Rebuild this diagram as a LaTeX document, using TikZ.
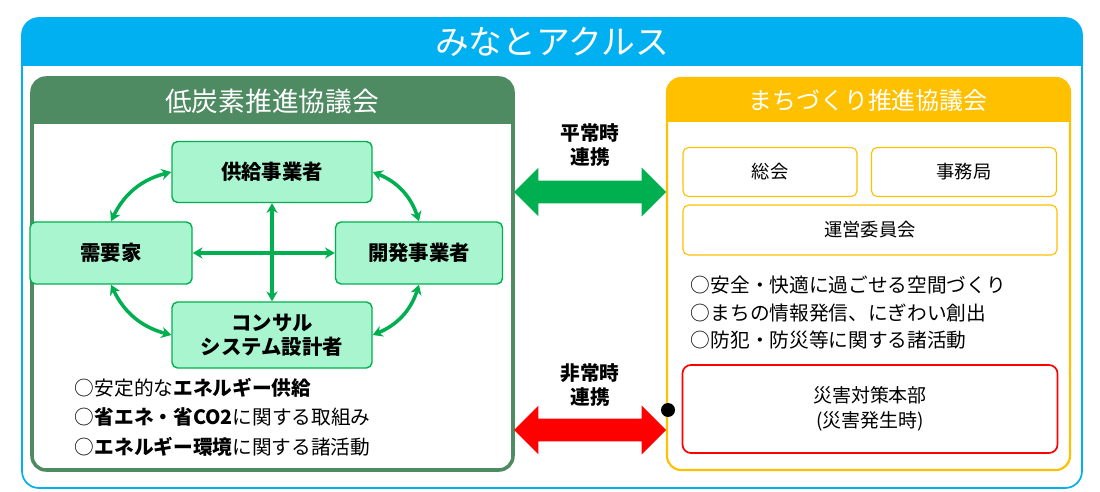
\documentclass[tikz,border=0pt]{standalone}
\usepackage{fontspec}
\setmainfont{Noto Sans CJK JP}
\usetikzlibrary{positioning,arrows.meta,shapes.arrows}
\definecolor{aqblue}{HTML}{00B0F0}
\definecolor{lcgreen}{HTML}{4E8A62}
\definecolor{ndgreen}{HTML}{00B050}
\definecolor{ndfill}{HTML}{A9F5CF}
\definecolor{mzyellow}{HTML}{FFC000}
\tikzset{
  actor/.style={draw=ndgreen, fill=ndfill, rounded corners=4pt, line width=1pt, font=\bfseries\fontsize{14.5}{17}\selectfont, align=center, inner sep=0pt},
  member/.style={draw=mzyellow, fill=white, rounded corners=4pt, line width=0.8pt, font=\fontsize{13}{15}\selectfont, inner sep=0pt},
  link/.style={{Stealth[length=7pt,width=8pt]}-{Stealth[length=7pt,width=8pt]}, ndgreen, line width=2.5pt},
  bigarrow/.style={double arrow, double arrow head extend=13\unitpx, double arrow head indent=0pt, minimum height=152\unitpx, inner xsep=0pt, inner ysep=11\unitpx},
  note/.style={anchor=west, font=\fontsize{14}{16}\selectfont}
}
\newlength{\unitpx}\setlength{\unitpx}{0.025cm}
\begin{document}
\begin{tikzpicture}[x=0.025cm, y=-0.025cm]
\useasboundingbox (0,0) rectangle (1100,492);
% outer frame
\draw[aqblue, line width=1.2pt, rounded corners=12pt] (22,18) rectangle (1082,488);
\fill[aqblue, rounded corners=12pt] (22,18) rectangle (1082,66);
\fill[aqblue] (22,50) rectangle (1082,66);
\node[white, font=\fontsize{24}{26}\selectfont] (title) at (552,42) {みなとアクルス};
% left council
\draw[lcgreen, line width=2.5pt, rounded corners=10pt] (32,78) rectangle (513,470);
\fill[lcgreen, rounded corners=10pt] (32,78) rectangle (513,124);
\fill[lcgreen] (32,110) rectangle (513,124);
\node[white, font=\fontsize{19}{21}\selectfont] (lctitle) at (272,101) {低炭素推進協議会};
% right council
\draw[mzyellow, line width=1.5pt, rounded corners=10pt] (667,78) rectangle (1070,470);
\fill[mzyellow, rounded corners=10pt] (667,78) rectangle (1070,122);
\fill[mzyellow] (667,108) rectangle (1070,122);
\node[white, font=\fontsize{17}{19}\selectfont] (mztitle) at (868,100) {まちづくり推進協議会};
% actors
\node[actor, minimum width=200\unitpx, minimum height=61\unitpx] (supply) at (272,172) {供給事業者};
\node[actor, minimum width=162\unitpx, minimum height=62\unitpx] (demand) at (111,253) {需要家};
\node[actor, minimum width=167\unitpx, minimum height=62\unitpx] (devel) at (419,253) {開発事業者};
\node[actor, minimum width=200\unitpx, minimum height=66\unitpx] (consult) at (272,335) {コンサル\\システム設計者};
% connections
\draw[link] (supply) -- (consult);
\draw[link] (demand) -- (devel);
\draw[link] (supply.west) to[bend right=25] (demand.north);
\draw[link] (supply.east) to[bend left=25] (devel.north);
\draw[link] (demand.south) to[bend right=25] (consult.west);
\draw[link] (devel.south) to[bend left=25] (consult.east);
% left notes
\node[note] (n1) at (70,388) {○安定的な\textbf{エネルギー供給}};
\node[note] (n2) at (70,417) {○\textbf{省エネ・省CO2}に関する取組み};
\node[note] (n3) at (70,447) {○\textbf{エネルギー環境}に関する諸活動};
% middle links
\node[font=\bfseries\fontsize{14}{17}\selectfont, align=center] (normal) at (590,145) {平常時\\連携};
\node[bigarrow, fill=ndgreen] (normalarrow) at (590,192) {};
\node[font=\bfseries\fontsize{14}{17}\selectfont, align=center] (emerg) at (590,385) {非常時\\連携};
\node[bigarrow, fill=red] (emergarrow) at (590,430) {};
\node[circle, fill=black, minimum size=14\unitpx, inner sep=0pt] (dot) at (668,410) {};
% right members
\node[member, minimum width=174\unitpx, minimum height=49\unitpx] (general) at (770,172) {総会};
\node[member, minimum width=185\unitpx, minimum height=49\unitpx] (office) at (964,172) {事務局};
\node[member, minimum width=374\unitpx, minimum height=50\unitpx] (board) at (870,230) {運営委員会};
\node[note] (m1) at (686,285) {○安全・快適に過ごせる空間づくり};
\node[note] (m2) at (686,313) {○まちの情報発信、にぎわい創出};
\node[note] (m3) at (686,340) {○防犯・防災等に関する諸活動};
\node[draw=red, line width=1.2pt, rounded corners=6pt, minimum width=375\unitpx, minimum height=88\unitpx, align=center, font=\fontsize{13.5}{18}\selectfont] (disaster) at (870,409) {災害対策本部\\(災害発生時)};
\end{tikzpicture}
\end{document}
